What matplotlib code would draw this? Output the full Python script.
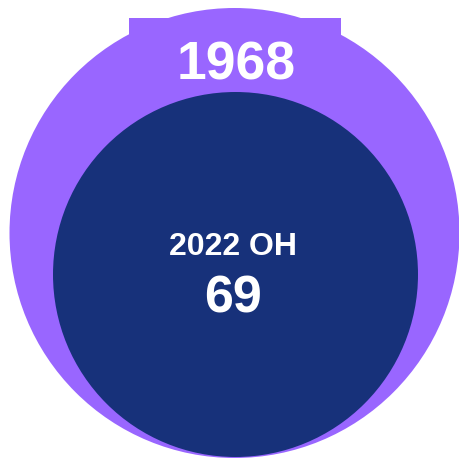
import matplotlib
matplotlib.use("Agg")
import matplotlib.pyplot as plt
from matplotlib.patches import Circle, Rectangle

# values shown on the chart
total_label = "1968"
subset_label = "2022 OH"
subset_value = 69

PURPLE = "#9966ff"
NAVY = "#17317a"

fig = plt.figure(figsize=(4.59, 4.60), dpi=100)
ax = fig.add_axes([0, 0, 1, 1])
ax.set_xlim(0, 459)
ax.set_ylim(460, 0)
ax.set_aspect("equal")
ax.axis("off")

# outer circle + tab behind the total
ax.add_patch(Rectangle((129, 19), 212, 50, color=PURPLE, lw=0))
ax.add_patch(Circle((234.5, 234), 225, color=PURPLE, lw=0))

# inner circle
ax.add_patch(Circle((235.5, 275.5), 182.5, color=NAVY, lw=0))

font = "Liberation Sans"
ax.text(236, 66, total_label, color="white", fontsize=38.5, fontweight="bold",
        family=font, ha="center", va="center")
ax.text(233, 247, subset_label, color="white", fontsize=23, fontweight="bold",
        family=font, ha="center", va="center")
ax.text(233.5, 299, str(subset_value), color="white", fontsize=37.5, fontweight="bold",
        family=font, ha="center", va="center")

fig.savefig("out.png", dpi=100)
